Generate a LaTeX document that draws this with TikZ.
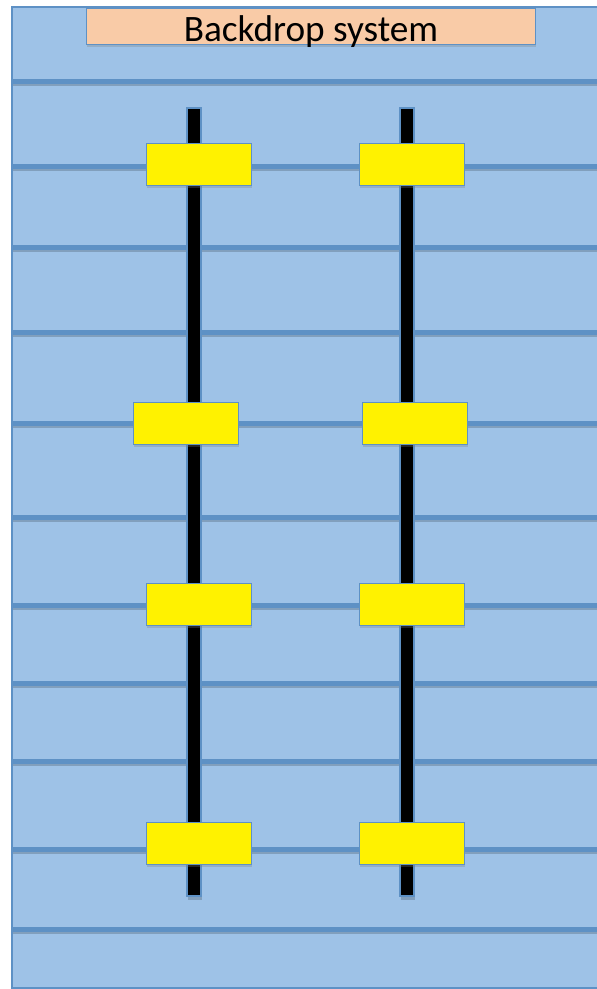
\documentclass[tikz,border=0pt]{standalone}
\usepackage{fontspec}
\setmainfont{Carlito}
\usetikzlibrary{positioning, shadows}

\definecolor{panelblue}{RGB}{158,194,231}
\definecolor{lineblue}{RGB}{94,145,197}
\definecolor{peach}{RGB}{249,203,167}

\begin{document}
\begin{tikzpicture}[
  x=0.025cm,
  y=-0.025cm,
  line join=miter,
  batten/.style={draw=lineblue, line width=0.125cm},
  bar/.style={draw=lineblue, fill=black, line width=0.8pt},
  clamp/.style={
    draw=lineblue, fill=yellow, line width=0.8pt,
    minimum width=2.62cm, minimum height=1.05cm, inner sep=0pt,
    drop shadow={shadow xshift=0.6pt, shadow yshift=-1.5pt, opacity=0.3}
  },
  titlebox/.style={
    draw=lineblue, fill=peach, line width=0.8pt,
    minimum width=11.22cm, minimum height=0.9cm, inner sep=0pt,
    drop shadow={shadow xshift=0.6pt, shadow yshift=-1.5pt, opacity=0.3}
  }
]
  \useasboundingbox (0,0) rectangle (597,989);

  % Backdrop panel
  \fill[panelblue] (12,7) rectangle (597,988);

  % Horizontal battens
  \foreach \y in {81,166,247,332,423,517,605,683,761,849,929} {
    \draw[black, opacity=0.18, line width=0.09cm] (12,\y+3) -- (597,\y+3);
    \draw[batten] (12,\y) -- (597,\y);
  }

  % Panel outline
  \draw[lineblue, line width=0.8pt]
    (597,7) -- (12,7) -- (12,988) -- (597,988);

  % Vertical bars
  \foreach \x in {194,407} {
    \fill[black, opacity=0.18] (\x-6,110) rectangle (\x+8,900);
    \draw[bar] (\x-7,108) rectangle (\x+7,896);
  }

  % Clamps
  \node[clamp] (clampA1) at (199,164.5) {};
  \node[clamp] (clampB1) at (412,164.5) {};
  \node[clamp] (clampA2) at (186,423.5) {};
  \node[clamp] (clampB2) at (415,423.5) {};
  \node[clamp] (clampA3) at (199,604.5) {};
  \node[clamp] (clampB3) at (412,604.5) {};
  \node[clamp] (clampA4) at (199,843.5) {};
  \node[clamp] (clampB4) at (412,843.5) {};

  % Title
  \node[
    titlebox,
    label={[anchor=base, yshift=2.2pt,
      font=\fontsize{26.5}{31}\selectfont]south:Backdrop system}
  ] (title) at (311,26.5) {};
\end{tikzpicture}
\end{document}
